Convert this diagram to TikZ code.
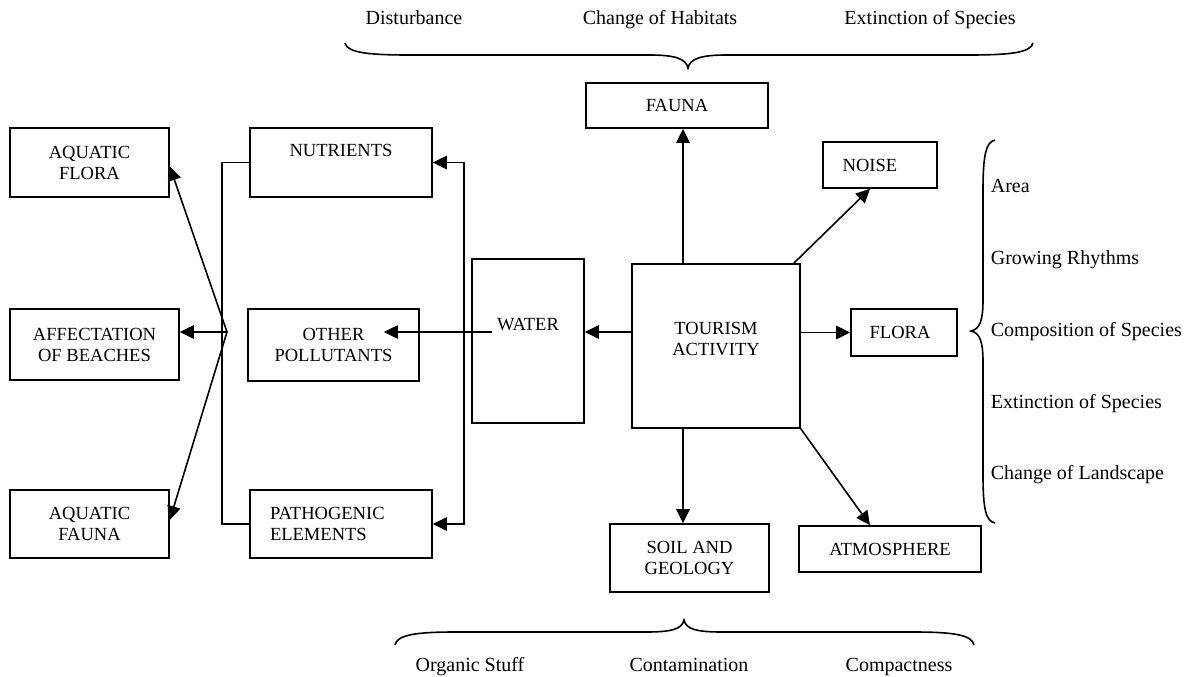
\documentclass[tikz,border=0pt]{standalone}
\usepackage{fontspec}
\setmainfont{Liberation Serif}
\usetikzlibrary{arrows.meta}
\newcommand\pxu{0.75pt}
\begin{document}
\begin{tikzpicture}[x=0.75pt, y=-0.75pt, line width=1.2pt,
  box/.style={draw, rectangle, inner sep=0pt, align=center,
    font=\fontsize{13.9pt}{15.75pt}\selectfont},
  lbl/.style={inner sep=0pt, font=\fontsize{15pt}{18pt}\selectfont},
  arr/.style={-{Triangle[length=10.5pt,width=10pt]}},
  darr/.style={{Triangle[length=10.5pt,width=10pt]}-{Triangle[length=10.5pt,width=10pt]}},
  bracepath/.style={line width=1.2pt}]
\useasboundingbox (0,0) rectangle (1196,676);

% ---------------- boxes ----------------
\node[box, minimum width=159*\pxu, minimum height=69*\pxu] (aflora) at (89.5,162.5) {AQUATIC\\FLORA};
\node[box, minimum width=169*\pxu, minimum height=71*\pxu] (affect) at (94.5,344.5) {AFFECTATION\\OF BEACHES};
\node[box, minimum width=159*\pxu, minimum height=68*\pxu] (afauna) at (89.5,524) {AQUATIC\\FAUNA};
\node[box, minimum width=182*\pxu, minimum height=69*\pxu, text depth=18.75pt] (nutr) at (341,162.5) {NUTRIENTS};
\node[box, minimum width=171*\pxu, minimum height=72*\pxu] (other) at (333.5,345) {OTHER\\POLLUTANTS};
\node[box, minimum width=182*\pxu, minimum height=68*\pxu, align=left, text width=106.5pt] (patho) at (341,524) {PATHOGENIC\\ELEMENTS};
\node[box, minimum width=112*\pxu, minimum height=164*\pxu, text depth=25.5pt] (water) at (528,341) {WATER};
\node[box, minimum width=168*\pxu, minimum height=164*\pxu, text depth=10.5pt] (tour) at (716,346) {TOURISM\\ACTIVITY};
\node[box, minimum width=182*\pxu, minimum height=45*\pxu] (fauna) at (677,105.5) {FAUNA};
\node[box, minimum width=114*\pxu, minimum height=46*\pxu] (noise) at (880,165) {NOISE\hspace*{15pt}};
\node[box, minimum width=106*\pxu, minimum height=47*\pxu] (flora) at (904,332.5) {FLORA\hspace*{6pt}};
\node[box, minimum width=159*\pxu, minimum height=68*\pxu] (soil) at (689.5,558) {SOIL AND\\GEOLOGY};
\node[box, minimum width=182*\pxu, minimum height=46*\pxu] (atmo) at (890,549) {ATMOSPHERE};

% ---------------- connectors from tourism ----------------
\draw[arr] ([xshift=-33*\pxu]tour.north) -- ([xshift=-33*\pxu]tour.north |- fauna.south);
\draw[arr] ([xshift=-33*\pxu]tour.south) -- ([xshift=-33*\pxu]tour.south |- soil.north);
\draw[arr] ([xshift=-7*\pxu]tour.north east) -- ([xshift=-10*\pxu]noise.south);
\draw[arr] (tour.east |- flora.west) -- (flora.west);
\draw[arr] (tour.south east) -- ([xshift=-20*\pxu]atmo.north);
\draw[arr] ([yshift=14*\pxu]tour.west) -- ([yshift=14*\pxu]tour.west -| water.east);

% ---------------- water to pollutants ----------------
\draw[arr] ([xshift=-36*\pxu,yshift=9*\pxu]water.center) -- ([xshift=-36*\pxu,yshift=9*\pxu]water.center -| other.east);
\draw[darr] (nutr.east) -- ++(31,0) -- ([xshift=31*\pxu]patho.east) -- (patho.east);

% ---------------- left bracket and fan ----------------
\draw (nutr.west) -- ++(-27,0) |- (patho.west);
\coordinate (J) at (227,332);
\draw[arr] (J) -- ([yshift=-4*\pxu]aflora.east);
\draw[arr] (J) -- (affect.east |- J);
\draw[arr] (J) -- ([yshift=4*\pxu]afauna.east);

% ---------------- braces ----------------
\draw[bracepath] (345,43) .. controls (347,53) and (370,55) .. (410,55) -- (650,55)
  .. controls (676,55) and (686,59) .. (688,68)
  .. controls (690,59) and (700,55) .. (726,55) -- (968,55)
  .. controls (1008,55) and (1031,53) .. (1033,43);
\draw[bracepath] (395,645) .. controls (397,635) and (415,632) .. (455,632) -- (646,632)
  .. controls (672,632) and (682,629) .. (684,620)
  .. controls (686,629) and (696,632) .. (722,632) -- (914,632)
  .. controls (954,632) and (972,635) .. (974,645);
\draw[bracepath] (995,140) .. controls (986,142) and (983,155) .. (983,190) -- (983,300)
  .. controls (983,320) and (980,329) .. (971,331)
  .. controls (980,333) and (983,342) .. (983,362) -- (983,475)
  .. controls (983,510) and (986,521) .. (995,523);

% ---------------- labels ----------------
\node[lbl, anchor=base] (ldist) at (414,24.5) {Disturbance};
\node[lbl, anchor=base] (lhab) at (660,24.5) {Change of Habitats};
\node[lbl, anchor=base] (lext) at (930,24.5) {Extinction of Species};
\node[lbl, anchor=base] (lorg) at (470,671.5) {Organic Stuff};
\node[lbl, anchor=base] (lcont) at (689,671.5) {Contamination};
\node[lbl, anchor=base] (lcomp) at (899,671.5) {Compactness};
\node[lbl, anchor=base west] (larea) at (990,192.5) {Area};
\node[lbl, anchor=base west] (lgrow) at (990,264.5) {Growing Rhythms};
\node[lbl, anchor=base west] (lcomps) at (990,336.5) {Composition of Species};
\node[lbl, anchor=base west] (lexts) at (990,408.5) {Extinction of Species};
\node[lbl, anchor=base west] (lland) at (990,479.5) {Change of Landscape};
\end{tikzpicture}
\end{document}
